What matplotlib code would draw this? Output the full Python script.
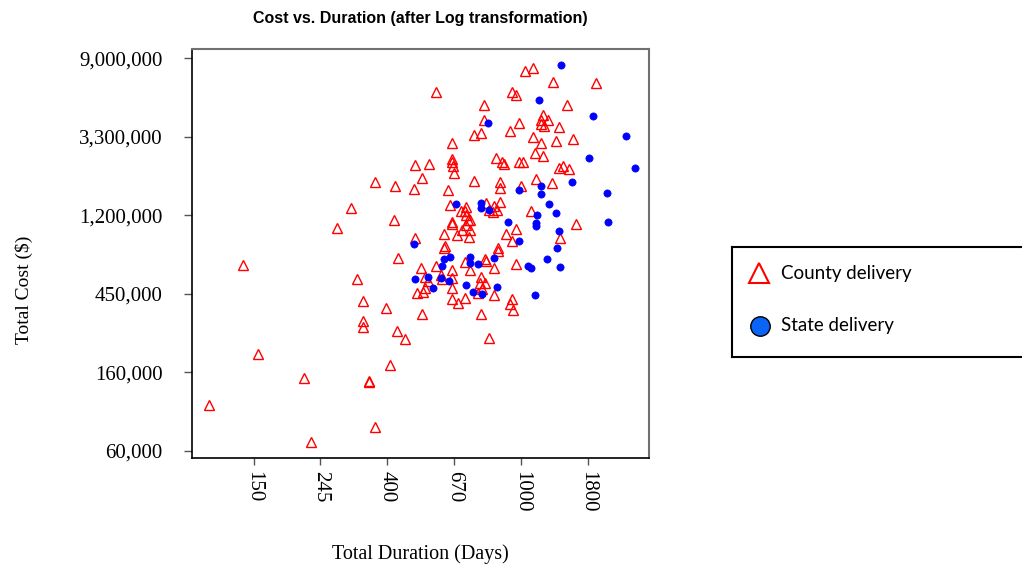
import numpy as np
import matplotlib
matplotlib.use("Agg")
import matplotlib.pyplot as plt

# Dados (log natural de duração em dias e custo em $)
county_log_days = [7.03, 7.09, 7.24, 7.56, 6.36, 6.93, 6.96, 6.72, 7.34, 7.16,
                   7.15, 7.20, 7.17, 7.15, 6.72, 6.98, 7.28, 6.65, 6.70, 6.92,
                   7.09, 7.15, 7.26, 7.39, 6.48, 7.10, 7.16, 6.81, 6.86, 6.87,
                   6.98, 7.01, 6.48, 6.48, 6.49, 6.50, 6.21, 6.31, 7.28, 7.31,
                   7.36, 6.26, 5.91, 6.06, 6.20, 6.45, 6.65, 6.84, 6.84, 7.00,
                   7.11, 7.23, 5.73, 6.05, 5.62, 6.47, 6.59, 6.55, 6.58, 6.59,
                   6.74, 6.80, 6.84, 6.76, 6.79, 6.82, 6.60, 6.62, 6.59, 6.48,
                   6.48, 7.07, 7.41, 6.96, 6.89, 6.56, 6.62, 6.42, 6.52, 6.61,
                   6.21, 7.29, 6.43, 6.42, 6.83, 6.83, 6.93, 6.08, 4.92, 6.25,
                   6.36, 6.48, 6.58, 6.62, 6.73, 6.74, 6.80, 6.96, 5.77, 6.28,
                   6.30, 6.28, 6.27, 6.22, 6.40, 6.41, 6.48, 6.48, 6.70, 6.69,
                   6.73, 6.71, 6.68, 6.80, 5.82, 5.99, 6.48, 6.53, 6.58, 6.93,
                   6.92, 6.94, 6.26, 6.70, 5.82, 5.82, 6.07, 6.13, 6.76, 5.03,
                   6.02, 5.38, 5.86, 5.86, 4.67, 5.91, 5.43]
county_log_cost = [15.84, 15.88, 15.70, 15.69, 15.57, 15.57, 15.53, 15.40, 15.41, 15.28,
                   15.21, 15.22, 15.14, 15.16, 15.21, 15.18, 15.12, 15.02, 15.05, 15.07,
                   15.00, 14.92, 14.95, 14.97, 14.92, 14.79, 14.75, 14.73, 14.68, 14.65,
                   14.68, 14.68, 14.72, 14.68, 14.63, 14.54, 14.64, 14.65, 14.60, 14.63,
                   14.59, 14.48, 14.43, 14.37, 14.33, 14.32, 14.44, 14.42, 14.35, 14.37,
                   14.46, 14.41, 14.09, 13.94, 13.84, 14.13, 14.11, 14.05, 14.05, 14.01,
                   14.16, 14.12, 14.17, 14.07, 14.04, 14.07, 13.94, 13.94, 13.88, 13.91,
                   13.89, 14.06, 13.89, 13.82, 13.76, 13.81, 13.81, 13.76, 13.75, 13.73,
                   13.71, 13.71, 13.61, 13.59, 13.58, 13.55, 13.67, 13.46, 13.37, 13.33,
                   13.35, 13.30, 13.40, 13.30, 13.45, 13.42, 13.33, 13.38, 13.19, 13.22,
                   13.16, 13.07, 13.02, 13.01, 13.24, 13.19, 13.20, 13.08, 13.22, 13.14,
                   13.14, 13.06, 13.01, 12.99, 12.91, 12.82, 12.93, 12.89, 12.95, 12.94,
                   12.87, 12.79, 12.75, 12.75, 12.65, 12.58, 12.53, 12.43, 12.44, 12.24,
                   12.10, 11.93, 11.88, 11.89, 11.58, 11.30, 11.12]

state_log_days = [7.30, 7.13, 7.54, 6.75, 7.78, 7.51, 7.85, 7.38, 7.15, 6.98,
                  7.15, 7.64, 7.21, 6.51, 6.70, 6.70, 6.76, 7.26, 7.12, 7.11,
                  7.11, 6.90, 7.65, 7.28, 6.20, 6.98, 7.27, 7.29, 7.19, 7.05,
                  7.07, 7.10, 6.42, 6.47, 6.41, 6.62, 6.62, 6.68, 6.80, 6.21,
                  6.30, 6.40, 6.46, 6.34, 6.59, 6.82, 6.64, 6.71]
state_log_cost = [15.92, 15.47, 15.27, 15.17, 15.01, 14.73, 14.60, 14.43, 14.38, 14.32,
                  14.27, 14.29, 14.14, 14.14, 14.16, 14.10, 14.07, 14.03, 14.01, 13.90,
                  13.87, 13.91, 13.91, 13.80, 13.63, 13.67, 13.58, 13.34, 13.44, 13.36,
                  13.33, 12.99, 13.44, 13.47, 13.35, 13.47, 13.39, 13.38, 13.46, 13.19,
                  13.22, 13.20, 13.16, 13.08, 13.11, 13.09, 13.02, 13.00]

x_ticks = [5.0, 5.5, 6.0, 6.5, 7.0, 7.5]
x_ticklabels = ["150", "245", "400", "670", "1000", "1800"]
y_ticks = [11, 12, 13, 14, 15, 16]
y_ticklabels = ["60,000", "160,000", "450,000", "1,200,000", "3,300,000", "9,000,000"]

W, H = 1022, 565
fig = plt.figure(figsize=(W / 100, H / 100), dpi=100)
ax = fig.add_axes([191.7 / W, 1 - 458.3 / H, (649 - 191.7) / W, (458.3 - 49) / H])

ax.plot(county_log_days, county_log_cost, linestyle="none", marker="^",
        markersize=7.6, markerfacecolor="none", markeredgecolor="red",
        markeredgewidth=1.0, zorder=2)
ax.plot(state_log_days, state_log_cost, linestyle="none", marker="o",
        markersize=5.2, markerfacecolor="#0000ff", markeredgecolor="#0000ff",
        markeredgewidth=0.5, zorder=3)

ax.set_xlim(4.538, 7.955)
ax.set_ylim(10.907, 16.118)

serif = "Liberation Serif"
ax.set_xticks(x_ticks)
ax.set_xticklabels(x_ticklabels, rotation=-90, va="top", ha="center",
                   family=serif, fontsize=15)
ax.set_yticks(y_ticks)
ax.set_yticklabels(y_ticklabels, family=serif, fontsize=15)
ax.tick_params(axis="x", length=5, width=1, color="#555555", pad=4)
ax.tick_params(axis="y", length=6, width=1, color="#555555", pad=15)

ax.set_xlabel("Total Duration (Days)", family=serif, fontsize=14.5, labelpad=23)
ax.set_ylabel("Total Cost ($)", family=serif, fontsize=14)
ax.yaxis.set_label_coords(-0.347, 0.411)

for side in ["left", "bottom"]:
    ax.spines[side].set_color("black")
    ax.spines[side].set_linewidth(1.2)
for side in ["top", "right"]:
    ax.spines[side].set_color("#707070")
    ax.spines[side].set_linewidth(1.5)

ax.set_title("Cost vs. Duration (after Log transformation)",
             family="Liberation Sans", fontweight="bold", fontsize=11.5, pad=18.5)

# Caixa da legenda (estende-se além da borda direita)
leg = fig.add_axes([731.7 / W, 1 - 357.3 / H, 300 / W, 110 / H])
leg.set_xlim(0, 300)
leg.set_ylim(110, 0)
leg.set_xticks([])
leg.set_yticks([])
for s in leg.spines.values():
    s.set_linewidth(1.5)
    s.set_color("black")
leg.plot([27.5], [26], marker="^", markersize=15, markerfacecolor="none",
         markeredgecolor="red", markeredgewidth=1.5, linestyle="none")
leg.plot([28.5], [78.5], marker="o", markersize=14, markerfacecolor="#0a64f5",
         markeredgecolor="black", markeredgewidth=1.0, linestyle="none")
leg.text(49, 26, "County delivery", family="Lato", fontsize=13.5, va="center")
leg.text(49, 78, "State delivery", family="Lato", fontsize=13.5, va="center")

fig.savefig("out.png", dpi=100)
